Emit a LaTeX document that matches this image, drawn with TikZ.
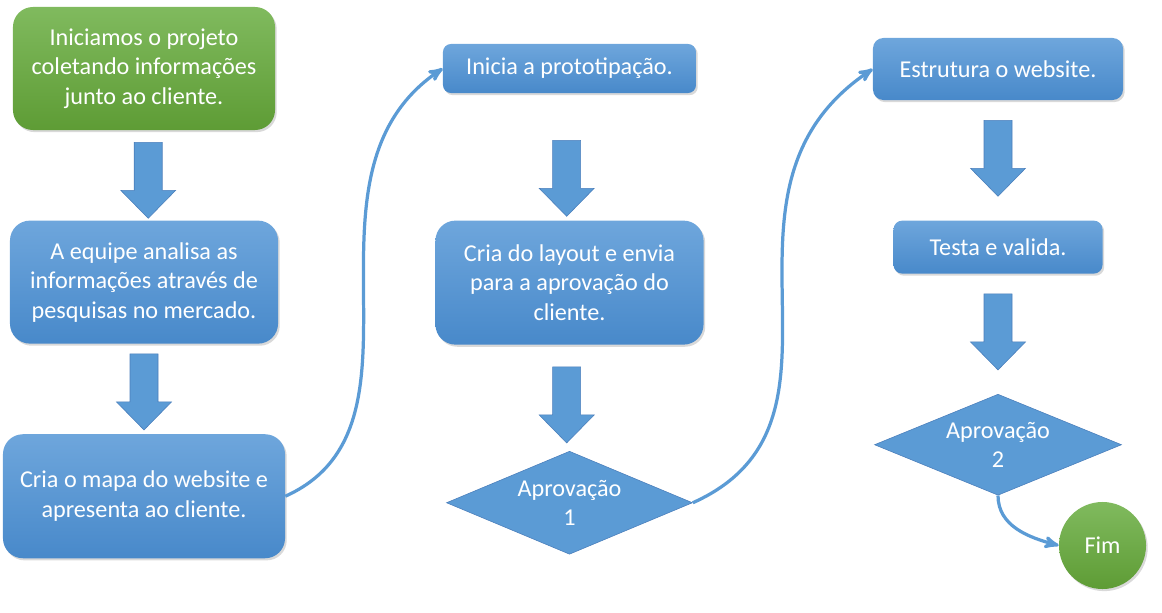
\documentclass[tikz,border=0pt]{standalone}
\usepackage{fontspec}
\setmainfont{Carlito}
\usetikzlibrary{positioning, arrows, shapes, shadows}

\definecolor{boxtop}{HTML}{6EA6DC}
\definecolor{boxbot}{HTML}{4889CA}
\definecolor{greentop}{HTML}{80BA5E}
\definecolor{greenbot}{HTML}{5E9C35}
\definecolor{flowblue}{HTML}{5B9BD5}
\definecolor{flowline}{HTML}{4A7EBB}

\tikzset{
  box/.style = {rectangle, rounded corners=0.5cm, top color=boxtop, bottom color=boxbot,
    text=white, align=center, inner sep=0pt, font=\fontsize{17.2}{21}\selectfont,
    drop shadow={opacity=0.3, shadow xshift=1.2pt, shadow yshift=-1.5pt}},
  startbox/.style = {box, top color=greentop, bottom color=greenbot},
  decision/.style = {diamond, aspect=2.4, fill=flowblue, draw=flowline, line width=0.4pt, text=white,
    align=center, inner sep=0pt, font=\fontsize{17.2}{21}\selectfont},
  endstate/.style = {circle, top color=greentop, bottom color=greenbot, text=white,
    inner sep=0pt, minimum size=2.175cm, font=\fontsize{17.2}{21}\selectfont,
    drop shadow={opacity=0.3, shadow xshift=1.2pt, shadow yshift=-1.5pt}},
  link/.style = {->, draw=flowblue, line width=2.3pt},
  blockarrow/.pic = {
    \path[fill=flowblue, draw=flowline, line width=0.4pt]
      (-14,0) -- (14,0) -- (14,-48) -- (27.5,-48) -- (0,-76)
      -- (-27.5,-48) -- (-14,-48) -- cycle;
  }
}

\begin{document}
\begin{tikzpicture}[>=stealth', x=0.025cm, y=0.025cm, node distance=2.25cm]
  \useasboundingbox (0,0) rectangle (1162,-612);

  % first column
  \node[startbox, minimum width=6.55cm, minimum height=3.075cm] (start) at (144,-68.5)
    {Iniciamos o projeto\\coletando informações\\junto ao cliente.};
  \node[box, minimum width=6.7cm, minimum height=3.075cm] (analise) [below = of start]
    {A equipe analisa as\\informações através de\\pesquisas no mercado.};
  \node[box, minimum width=7.05cm, minimum height=3.1cm] (mapa) [below = of analise]
    {Cria o mapa do website e\\apresenta ao cliente.};

  % second column
  \node[box, rounded corners=0.2cm, minimum width=6.325cm, minimum height=1.225cm] (proto) at (569.5,-68.5)
    {Inicia a prototipação.};
  \node[box, minimum width=6.7cm, minimum height=3.1cm] (layout) [below = 3.175cm of proto]
    {Cria do layout e envia\\para a aprovação do\\cliente.};
  \node[decision, minimum width=6.15cm, minimum height=2.575cm] (ap1) [below = 2.65cm of layout]
    {Aprovação\\1};

  % third column
  \node[box, rounded corners=0.26cm, minimum width=6.25cm, minimum height=1.55cm] (estrutura) at (998,-69)
    {Estrutura o website.};
  \node[box, rounded corners=0.22cm, minimum width=5.225cm, minimum height=1.325cm] (testa) [below = 3cm of estrutura]
    {Testa e valida.};
  \node[decision, minimum width=6.175cm, minimum height=2.525cm] (ap2) [below = 3cm of testa]
    {Aprovação\\2};
  \node[endstate] (fim) at (1102.5,-545.5) {Fim};

  % block arrows
  \pic at ([xshift=3pt, yshift=-0.3cm]start.south) {blockarrow};
  \pic at ([yshift=-0.25cm]analise.south) {blockarrow};
  \pic at ([xshift=-2pt, yshift=-1.175cm]proto.south) {blockarrow};
  \pic at ([xshift=-2pt, yshift=-0.55cm]layout.south) {blockarrow};
  \pic at ([yshift=-0.5cm]estrutura.south) {blockarrow};
  \pic at ([yshift=-0.5cm]testa.south) {blockarrow};

  % curved links
  \draw[link] (mapa.east) .. controls +(158,71) and +(-158,-106) .. (proto.west);
  \draw[link] (ap1.east) .. controls +(183,82) and +(-183,-122) .. (estrutura.west);
  \draw[link] (ap2.south) to[out=-90, in=165] (fim.west);
\end{tikzpicture}
\end{document}
